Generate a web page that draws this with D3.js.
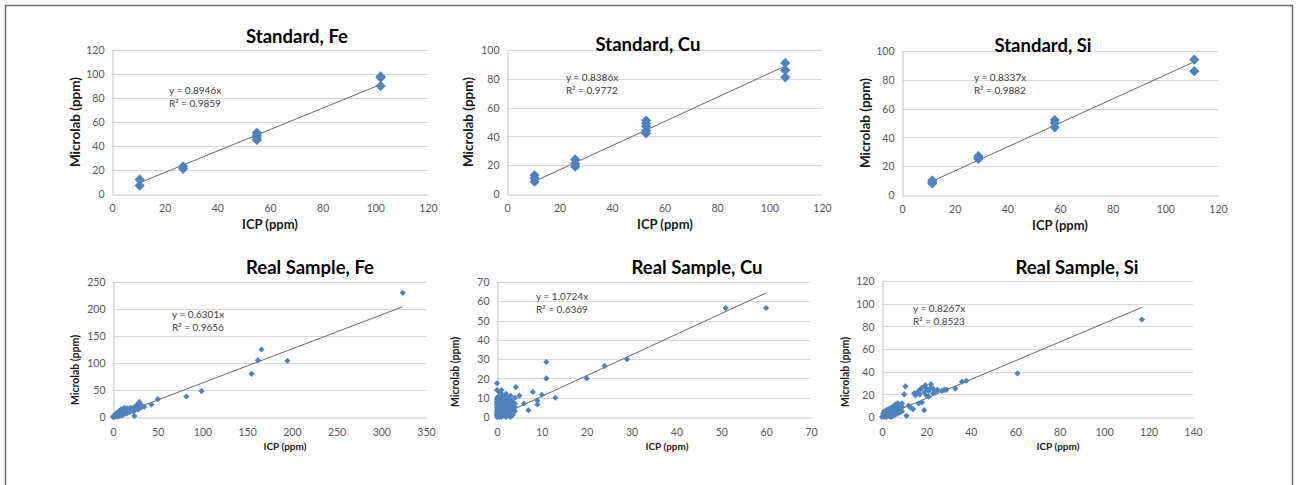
<!DOCTYPE html>
<html>
<head>
<meta charset="utf-8">
<script src="https://cdn.jsdelivr.net/npm/d3@7"></script>
<style>
body { margin: 0; background: #fff; }
text { font-family: Lato, "Liberation Sans", sans-serif; }
</style>
</head>
<body>
<div id="chart"></div>
<script>
// --> DATA
var titles = ["Standard, Fe", "Standard, Cu", "Standard, Si",
              "Real Sample, Fe", "Real Sample, Cu", "Real Sample, Si"];
var slopes = [0.8946, 0.8386, 0.8337, 0.6301, 1.0724, 0.8267];
var rSquared = ["0.9859", "0.9772", "0.9882", "0.9656", "0.6369", "0.8523"];
var xTickMax = [120, 120, 120, 350, 70, 140];
var xTickStep = [20, 20, 20, 50, 10, 20];
var yTickMax = [120, 100, 100, 250, 70, 120];
var yTickStep = [20, 20, 20, 50, 10, 20];

var stdFe = [[10.5,12],[10.5,7],[27,23],[27,21],[55,51],[55,49],[55,47],[55,45],
             [102,98],[102,97],[102,90]];
var stdCu = [[10.5,13],[10.5,11],[10.5,8.5],[26,24],[26,21],[26,19],
             [53,51],[53,49],[53,47],[53,44],[53,42],[106,91],[106,86],[106,81]];
var stdSi = [[11.5,10],[11.5,9],[11.5,8],[29,27],[29,26],[29,25],
             [58,52],[58,50],[58,47],[111,94],[111,86]];

var realFe = [[0,0],[0.5,1],[1,2],[1,0],[1.5,3],[2,1],[2,4],[2.5,2],[3,5],[3,1],[3.5,3],
              [4,6],[4,2],[4.5,8],[5,4],[5,1],[5.5,6],[6,3],[6,9],[6.5,5],[7,7],[7,2],
              [7.5,10],[8,5],[8,12],[8.5,4],[9,8],[9,14],[9.5,6],[10,10],[10,3],[11,15],
              [11,7],[12,9],[12,5],[13,12],[13,17],[14,8],[14,11],[15,14],[15,6],[16,10],
              [16,16],[17,12],[18,9],[18,15],[19,13],[20,11],[20,17],[21,14],[22,12],
              [22,16],[23,10],[24,2],[24,18],[25,14],[26,20],[27,16],[27,23],[29.5,28],
              [28,14],[29,19],[30,17],[31,21],[32,18],[33,20],[35,19],[43,23],[50,33],
              [82,38],[99,48],[155,80],[162,105],[166,125],[195,104],[324,230]];

var realCu = [[0,0],[0,1],[0,2],[0,3],[0,4],[0,5],[0,6],[0,7],[0,8],[0,9],[0,10],[0,14],[0,17.5],
              [0.5,0],[0.5,2],[0.5,3],[0.5,5],[0.5,6],[0.5,8],[0.5,9],[0.5,11],[0.5,13],
              [1,0],[1,1],[1,3],[1,4],[1,6],[1,7],[1,9],[1,10],[1,12],[1,14],
              [1.5,1],[1.5,2],[1.5,4],[1.5,5],[1.5,7],[1.5,8],[1.5,10],[1.5,11],
              [2,0],[2,2],[2,3],[2,5],[2,6],[2,8],[2,9],[2,12],
              [2.5,1],[2.5,3],[2.5,4],[2.5,6],[2.5,7],[2.5,10],
              [3,0],[3,2],[3,5],[3,7],[3,9],[3,11],
              [3.5,1],[3.5,4],[3.5,6],[3.5,8],[4,3],[4,5],[4,7],[4,10],[4.2,15.5],
              [5,11],[6,7],[7,3.5],[8,13],[9,8.5],[9,6.5],[10,11.5],[11,28.5],[11,20],
              [13,10],[20,20],[24,26.5],[29,30],[51,56.5],[60,56.5]];

var realSi = [[0,0],[0.5,1],[0.5,3],[1,0],[1,2],[1,5],[1.5,1],[1.5,4],[2,0],[2,3],[2,6],
              [2.5,2],[2.5,5],[3,1],[3,4],[3,7],[3.5,2],[3.5,6],[4,0],[4,3],[4,5],[4,8],
              [4.5,2],[4.5,6],[5,1],[5,4],[5,7],[5,9],[5.5,3],[5.5,5],[6,2],[6,6],[6,8],
              [6,11],[6.5,4],[6.5,10],[7,3],[7,7],[7,12],[7.5,5],[7.5,9],[8,4],[8,8],
              [8,11],[8.5,6],[9,5],[9,9],[9,12],[10,20],[10.5,27],[11,1],[12,10],[13,8],
              [14,7],[14.5,21],[15,19],[16.5,12],[16,22],[17,20],[17,24],[18,13],[18,26],
              [19,6],[19,22],[19.5,28],[20,19],[20,25],[21,18],[21,23],[22,29],[22,26],
              [23,21],[23,25],[24.5,23],[25,24],[27,23],[28,24],[29,24],[33,25],[36,31],
              [38,32],[61,38.5],[117,86]];

var panelData = [stdFe, stdCu, stdSi, realFe, realCu, realSi];

// --> LAYOUT (pixel boxes of each plot area and label anchors)
var layout = [
    { l: 112, r: 428, t: 50, b: 194, tx: 297, ty: 43, yl: 75, ylc: 122, xlc: 270, xly: 229, ex: 169, ey: 94, big: true },
    { l: 507, r: 822, t: 50, b: 194, tx: 648, ty: 51, yl: 468, ylc: 122, xlc: 665, xly: 229, ex: 566, ey: 81, big: true },
    { l: 902, r: 1218, t: 51, b: 195, tx: 1043, ty: 52, yl: 865, ylc: 123, xlc: 1060, xly: 230, ex: 974, ey: 81, big: true },
    { l: 113, r: 426, t: 282, b: 417, tx: 310, ty: 274, yl: 75, ylc: 370, xlc: 285, xly: 450, ex: 172, ey: 318, big: false },
    { l: 497, r: 811, t: 282, b: 417, tx: 697, ty: 274, yl: 455, ylc: 372, xlc: 667, xly: 450, ex: 536, ey: 300, big: false },
    { l: 882, r: 1193, t: 281, b: 417, tx: 1077, ty: 274, yl: 845, ylc: 372, xlc: 1058, xly: 450, ex: 913, ey: 312, big: false }
];

var width = 1300,
    height = 485;

var svg = d3.select("#chart").append("svg")
    .attr("width", width)
    .attr("height", height);

// outer frame (its bottom edge is below the photographed area)
svg.append("path")
    .attr("d", "M5.5," + height + "V5.5H1292.5V" + height)
    .attr("fill", "none")
    .attr("stroke", "#6b6b6b")
    .attr("stroke-width", 1.5);

function drawPanel(i) {
    var p = layout[i];
    var data = panelData[i];

    var x = d3.scaleLinear().domain([0, xTickMax[i]]).range([p.l, p.r]);
    var y = d3.scaleLinear().domain([0, yTickMax[i]]).range([p.b, p.t]);
    var xTicks = d3.range(0, xTickMax[i] + 1e-9, xTickStep[i]);
    var yTicks = d3.range(0, yTickMax[i] + 1e-9, yTickStep[i]);

    var g = svg.append("g").attr("class", "panel");

    // horizontal gridlines
    g.selectAll(".grid")
        .data(yTicks.slice(1))
        .enter().append("line")
        .attr("x1", p.l).attr("x2", p.r)
        .attr("y1", function(d) { return Math.round(y(d)) + 0.5; })
        .attr("y2", function(d) { return Math.round(y(d)) + 0.5; })
        .attr("stroke", "#d9d9d9");

    // axes drawn with d3.axis, restyled like a spreadsheet chart
    var xAxis = g.append("g")
        .attr("transform", "translate(0," + (Math.round(p.b) + 0.5) + ")")
        .call(d3.axisBottom(x).tickValues(xTicks).tickSize(0).tickPadding(p.big ? 10 : 11));
    var yAxis = g.append("g")
        .attr("transform", "translate(" + (Math.round(p.l) + 0.5) + ",0)")
        .call(d3.axisLeft(y).tickValues(yTicks).tickSize(0).tickPadding(8));

    [xAxis, yAxis].forEach(function(a) {
        a.select(".domain").attr("stroke", "#c4c4c4");
        a.selectAll("text")
            .attr("fill", "#595959")
            .style("font-size", "10.5px")
            .style("font-family", "Lato, 'Liberation Sans', sans-serif");
    });
    yAxis.selectAll("text").attr("dy", "0.35em");

    // trendline through the origin over the data range
    var xs = data.map(function(d) { return d[0]; });
    var x0 = d3.min(xs), x1 = d3.max(xs);
    g.append("line")
        .attr("x1", x(x0)).attr("y1", y(slopes[i] * x0))
        .attr("x2", x(x1)).attr("y2", y(slopes[i] * x1))
        .attr("stroke", "#6a6a6a")
        .attr("stroke-width", 1);

    // diamond markers
    var sym = d3.symbol().type(d3.symbolSquare).size(p.big ? 52 : 19);
    g.selectAll(".pt")
        .data(data)
        .enter().append("path")
        .attr("d", sym)
        .attr("transform", function(d) {
            return "translate(" + x(d[0]) + "," + y(d[1]) + ") rotate(45)";
        })
        .attr("fill", "#4f81bd");

    // equation labels
    g.append("text")
        .attr("x", p.ex).attr("y", p.ey)
        .attr("fill", "#404040")
        .style("font-size", "10px")
        .text("y = " + slopes[i].toFixed(4) + "x");
    g.append("text")
        .attr("x", p.ex).attr("y", p.ey + (p.big ? 13 : 12.5))
        .attr("fill", "#404040")
        .style("font-size", "10px")
        .text("R\u00b2 = " + rSquared[i]);

    // titles
    g.append("text")
        .attr("x", p.tx).attr("y", p.ty)
        .attr("text-anchor", "middle")
        .style("font-size", "18.5px")
        .style("font-weight", "bold")
        .attr("fill", "#000")
        .text(titles[i]);

    g.append("text")
        .attr("x", p.xlc).attr("y", p.xly)
        .attr("text-anchor", "middle")
        .style("font-size", p.big ? "13px" : "10px")
        .style("font-weight", "bold")
        .attr("fill", "#1a1a1a")
        .text("ICP (ppm)");

    g.append("text")
        .attr("transform", "translate(" + p.yl + "," + p.ylc + ") rotate(-90)")
        .attr("text-anchor", "middle")
        .attr("dy", "0.35em")
        .style("font-size", p.big ? "13.5px" : "10.5px")
        .style("font-weight", "bold")
        .attr("fill", "#1a1a1a")
        .text("Microlab (ppm)");
}

for (var i = 0; i < titles.length; i++) {
    drawPanel(i);
}
</script>
</body>
</html>
